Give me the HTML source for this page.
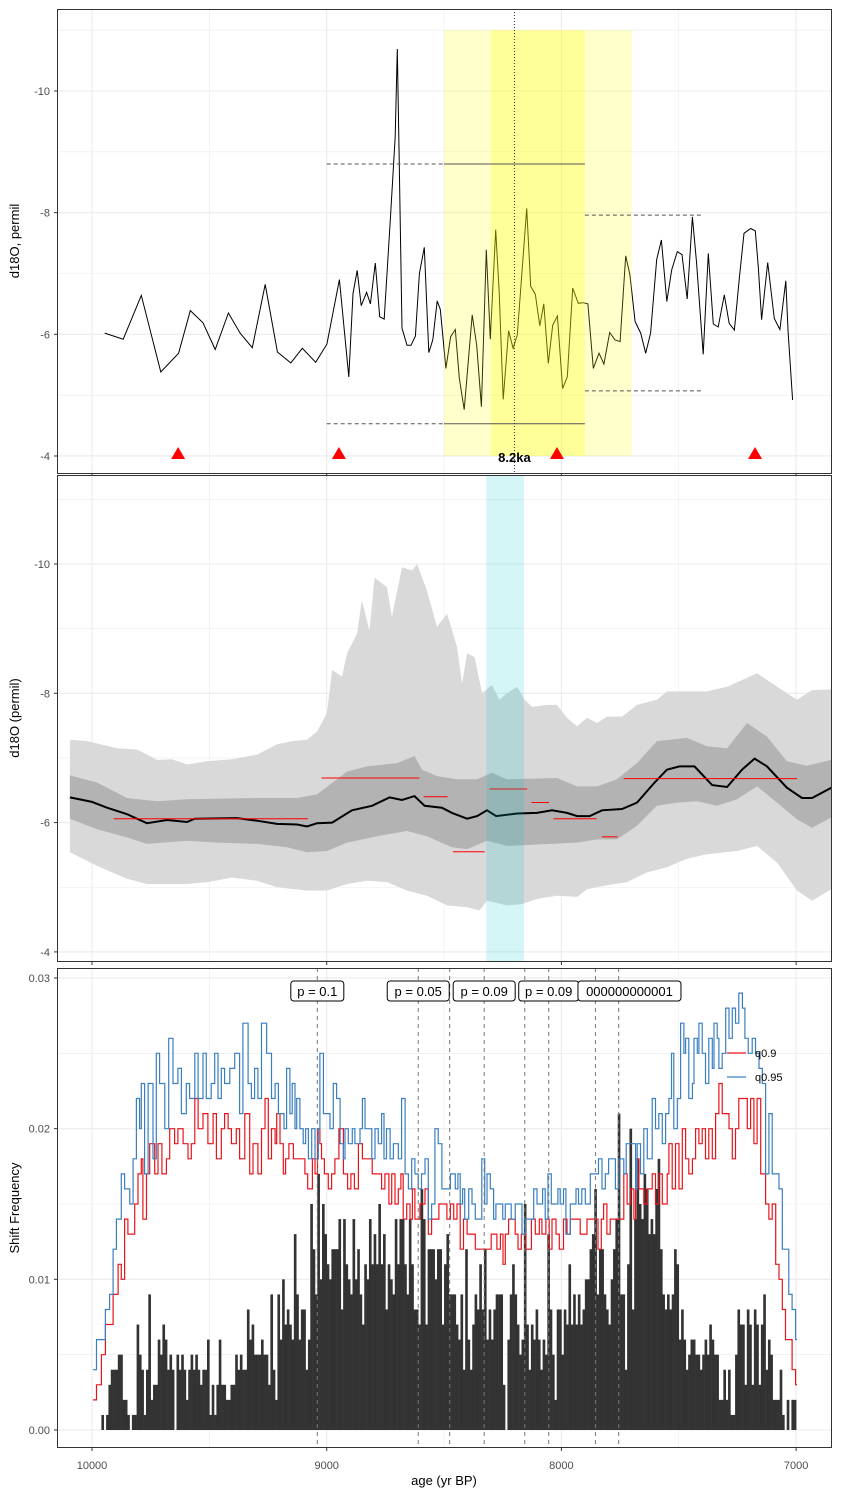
<!DOCTYPE html>
<html><head><meta charset="utf-8"><style>
html,body{margin:0;padding:0;background:#fff;}
svg{display:block;font-family:"Liberation Sans",sans-serif;}
</style></head><body>
<svg id="chart" width="841" height="1496" viewBox="0 0 841 1496" xmlns="http://www.w3.org/2000/svg">
<rect x="0" y="0" width="841" height="1496" fill="#fff"/>
<text x="19" y="241" transform="rotate(-90 19 241)" text-anchor="middle" font-size="13" fill="#000">d18O, permil</text>
<text x="19" y="718" transform="rotate(-90 19 718)" text-anchor="middle" font-size="13" fill="#000">d18O (permil)</text>
<text x="19" y="1208" transform="rotate(-90 19 1208)" text-anchor="middle" font-size="13" fill="#000">Shift Frequency</text>
<text x="444" y="1485" text-anchor="middle" font-size="13" fill="#000">age (yr BP)</text>
</svg>
<script>
// ---------- Panel 1 data ----------
const ages1=[9946,9867,9790,9707,9631,9581,9527,9475,9419,9369,9317,9262,9210,9153,9104,9047,8999,8946,8906,8888,8870,8853,8830,8814,8793,8774,8755,8729,8708,8699,8691,8679,8658,8641,8622,8605,8584,8565,8548,8529,8516,8492,8472,8452,8435,8414,8380,8361,8341,8320,8303,8280,8265,8248,8225,8206,8188,8148,8131,8111,8092,8075,8056,8037,8017,7995,7975,7952,7928,7907,7887,7864,7840,7819,7794,7772,7750,7726,7708,7686,7662,7641,7620,7594,7574,7551,7530,7506,7486,7464,7442,7424,7396,7374,7353,7332,7306,7285,7263,7242,7222,7193,7174,7161,7147,7121,7093,7069,7044,7034,7015];
const vals1=[-6.02,-5.92,-6.64,-5.38,-5.69,-6.39,-6.19,-5.75,-6.35,-6.02,-5.78,-6.82,-5.71,-5.53,-5.77,-5.54,-5.84,-6.90,-5.30,-6.67,-7.05,-6.47,-6.69,-6.50,-7.17,-6.29,-6.25,-7.88,-9.25,-10.69,-8.87,-6.10,-5.82,-5.82,-5.97,-7.00,-7.43,-5.70,-5.91,-6.55,-6.41,-5.44,-5.96,-6.08,-5.28,-4.76,-6.32,-5.82,-4.81,-7.39,-5.92,-7.72,-6.69,-4.93,-6.06,-5.77,-5.99,-8.07,-6.79,-6.66,-6.14,-6.50,-5.52,-6.15,-6.30,-5.11,-5.30,-6.76,-6.51,-6.52,-6.50,-5.44,-5.69,-5.51,-6.03,-5.91,-5.88,-7.29,-6.98,-6.21,-6.02,-5.69,-6.02,-7.23,-7.55,-6.54,-7.06,-7.36,-7.31,-6.58,-7.93,-7.17,-5.67,-7.33,-6.17,-6.12,-6.65,-6.18,-6.07,-6.92,-7.66,-7.74,-7.70,-7.11,-6.24,-7.18,-6.26,-6.08,-6.88,-6.04,-4.92];
const triAges=[9633,8948,8019,7175];
const refLevels=[-8.8,-4.53];
const rightLevels=[-7.96,-5.07];
// ---------- Panel 2 data ----------
const meanAges=[10094,10000,9936,9851,9766,9680,9595,9563,9382,9297,9212,9126,9084,9041,8977,8892,8807,8732,8679,8626,8583,8509,8466,8402,8359,8317,8278,8189,8104,8040,7976,7933,7880,7827,7742,7678,7603,7550,7497,7433,7358,7294,7230,7177,7124,7039,6975,6932,6850];
const meanVals=[-6.39,-6.32,-6.23,-6.13,-5.99,-6.04,-6.01,-6.06,-6.07,-6.03,-5.98,-5.97,-5.94,-5.99,-6.00,-6.19,-6.26,-6.39,-6.35,-6.41,-6.26,-6.23,-6.15,-6.06,-6.10,-6.19,-6.10,-6.14,-6.15,-6.19,-6.15,-6.10,-6.10,-6.19,-6.21,-6.31,-6.62,-6.82,-6.87,-6.87,-6.58,-6.55,-6.82,-6.99,-6.87,-6.54,-6.38,-6.38,-6.54];
const lightTopAges=[10094,10021,9893,9808,9723,9659,9595,9510,9403,9297,9212,9148,9084,9041,8999,8977,8935,8913,8871,8850,8818,8796,8743,8722,8679,8636,8615,8573,8530,8487,8445,8423,8402,8370,8338,8296,8264,8232,8189,8157,8125,8061,8019,7976,7933,7891,7848,7806,7742,7678,7593,7550,7380,7294,7166,7081,6996,6932,6850];
const lightTopVals=[-7.28,-7.26,-7.15,-7.13,-6.97,-6.98,-6.90,-6.95,-6.98,-7.05,-7.21,-7.26,-7.28,-7.41,-7.69,-8.36,-8.26,-8.62,-8.92,-9.44,-8.97,-9.79,-9.64,-9.18,-9.95,-9.90,-10.0,-9.59,-9.03,-9.23,-8.72,-8.15,-8.62,-8.56,-8.00,-8.13,-7.90,-8.00,-8.10,-7.90,-7.79,-7.82,-7.82,-7.62,-7.49,-7.62,-7.54,-7.64,-7.64,-7.82,-7.90,-8.03,-8.03,-8.10,-8.31,-8.10,-7.90,-8.05,-8.06];
const lightBotAges=[10094,9979,9851,9766,9595,9510,9403,9297,9212,9084,8999,8913,8828,8743,8658,8573,8487,8402,8349,8317,8232,8168,8104,8019,7933,7891,7806,7720,7635,7550,7465,7380,7252,7166,7081,6996,6932,6850];
const lightBotVals=[-5.54,-5.33,-5.13,-5.05,-5.05,-5.08,-5.15,-5.10,-5.00,-4.95,-4.95,-5.05,-5.10,-5.08,-4.95,-4.87,-4.72,-4.69,-4.64,-4.79,-4.72,-4.74,-4.82,-4.87,-4.85,-4.97,-5.03,-5.08,-5.23,-5.31,-5.44,-5.51,-5.56,-5.64,-5.38,-4.95,-4.79,-4.97];
const darkTopAges=[10094,9979,9851,9723,9595,9297,9126,9041,8956,8913,8828,8700,8626,8594,8530,8445,8359,8296,8232,8019,7933,7848,7763,7678,7593,7465,7380,7294,7209,7124,7039,6954,6850];
const darkTopVals=[-6.73,-6.62,-6.38,-6.33,-6.36,-6.38,-6.38,-6.44,-6.67,-6.79,-6.87,-6.92,-7.03,-6.82,-6.72,-6.67,-6.67,-6.77,-6.67,-6.69,-6.56,-6.56,-6.67,-6.92,-7.26,-7.31,-7.18,-7.15,-7.54,-7.33,-6.95,-6.88,-6.97];
const darkBotAges=[10094,9979,9851,9766,9595,9467,9297,9169,9084,8999,8913,8785,8658,8573,8466,8402,8317,8232,7933,7848,7763,7678,7593,7507,7422,7337,7252,7166,7081,6996,6932,6850];
const darkBotVals=[-6.06,-5.90,-5.77,-5.67,-5.72,-5.69,-5.67,-5.62,-5.54,-5.56,-5.69,-5.79,-5.87,-5.79,-5.62,-5.59,-5.72,-5.64,-5.69,-5.74,-5.74,-5.95,-6.26,-6.31,-6.33,-6.26,-6.36,-6.56,-6.31,-6.05,-5.92,-6.08];
const segStart=[9908,9022,8587,8462,8306,8127,8034,7827,7735];
const segEnd=[9080,8605,8485,8327,8146,8053,7850,7761,6996];
const segVal=[-6.06,-6.69,-6.40,-5.55,-6.52,-6.31,-6.06,-5.78,-6.68];
// ---------- Panel 3 data (frequency in units of 0.001) ----------
const histStart=9960, histWidth=10;
const histVals=[1,0,1,3,4,4,4,5,5,2,2,1,0,1,1,7,5,4,1,4,9,2,3,3,6,5,7,6,4,5,4,0,5,4,5,4,2,4,5,4,5,4,3,4,4,6,1,3,1,3,6,3,3,2,2,3,3,5,4,5,4,4,8,6,7,5,5,5,6,5,
5,3,9,4,2,9,6,10,7,8,7,6,13,9,6,8,8,4,6,15,12,9,17,10,15,13,11,10,12,12,12,14,8,14,11,10,9,14,10,12,9,7,11,10,14,11,13,11,15,11,13,8,11,10,9,14,11,14,14,11,9,14,11,8,8,7,16,14,7,12,12,12,10,12,12,7,
11,13,9,9,9,7,6,9,4,12,6,4,7,9,8,11,8,12,6,8,6,8,9,9,9,3,0,6,9,11,9,7,5,6,15,7,4,7,6,8,6,4,6,5,13,8,5,2,8,8,5,8,7,11,7,9,7,9,7,8,10,10,12,13,16,9,12,12,9,8,7,10,12,14,21,
9,9,4,11,20,8,14,18,15,14,17,16,13,14,13,16,18,12,9,8,9,8,9,12,11,6,8,6,4,5,6,6,5,5,4,5,6,5,7,6,5,5,2,2,4,2,4,1,1,5,8,7,7,3,8,7,3,8,7,3,7,9,4,6,5,2,2,2,4,1,0,2,0,2,2];
const q95Ages=[9996,9981,9943,9925,9910,9896,9875,9861,9839,9825,9811,9797,9790,9776,9761,9740,9726,9712,9690,9673,9655,9634,9619,9598,9584,9562,9548,9527,9513,9492,9477,9463,9449,9435,9413,9392,9371,9357,9335,9321,9307,9293,9278,
9256,9235,9220,9206,9192,9182,9171,9157,9147,9135,9128,9114,9100,9090,9078,9064,9050,9036,9029,9014,9000,8986,8972,8958,8943,8929,8922,8908,8891,8880,8858,8848,8837,8808,8794,8780,8766,8756,8745,8730,8716,8695,8681,8666,8652,8638,8624,8610,8596,8581,8567,8553,8539,8525,
8509,8473,8452,8441,8431,8421,8412,8395,8381,8367,8353,8339,8327,8317,8303,8289,8279,8265,8250,8239,8225,8214,8197,8179,8168,8154,8133,8118,8104,8090,8080,8069,8057,8043,8026,8015,8005,7991,7981,7962,7948,7938,7927,7913,7898,7877,7856,7842,7827,7813,7799,7782,7770,
7755,7734,7724,7705,7684,7677,7663,7649,7634,7620,7613,7599,7585,7570,7556,7542,7531,7521,7506,7492,7478,7471,7457,7442,7435,7421,7414,7400,7386,7372,7357,7350,7336,7329,7315,7300,7286,7272,7258,7244,7229,7218,7204,7187,7173,7158,7144,7130,7116,7102,7087,7073,7059,7045,7031,7017,7002];
const q95Vals=[4,6,8,9,12,14,17,16,15,18,22,20,23,17,23,18,25,23,20,26,23,24,21,23,22,25,22,25,22,23,25,22,24,23,24,25,21,27,23,22,24,22,27,
25,22,23,21,21,20,24,21,23,20,22,20,19,20,18,20,18,20,25,21,21,20,23,22,19,18,20,19,20,19,20,22,20,18,20,19,21,18,20,18,19,18,22,17,16,18,17,16,17,18,14,15,20,19,
16,17,16,17,15,16,14,16,15,14,14,18,15,17,16,14,15,15,14,15,15,14,15,15,13,14,14,16,15,15,16,14,17,15,15,16,15,16,13,15,15,16,15,16,15,17,17,18,16,17,18,18,16,
18,17,19,19,16,19,17,20,18,18,22,20,21,19,21,22,25,20,22,27,25,26,22,23,26,25,27,25,23,26,24,27,26,24,25,28,26,28,27,29,28,26,25,26,25,24,23,17,21,17,17,16,12,12,9,8,6];
const q90Ages=[9996,9981,9960,9943,9910,9889,9875,9861,9847,9832,9818,9804,9790,9783,9768,9754,9733,9719,9702,9683,9669,9648,9634,9612,9591,9577,9562,9548,9527,9506,9484,9470,9449,9435,9420,9406,9385,9371,9349,9328,9314,9293,9278,
9263,9249,9235,9220,9213,9199,9185,9175,9161,9142,9121,9107,9093,9081,9071,9061,9050,9039,9029,9022,9010,8993,8979,8965,8948,8929,8911,8897,8882,8865,8848,8830,8806,8780,8766,8752,8735,8723,8709,8695,8684,8674,8659,8645,8635,8624,8603,8581,8567,8553,8536,8522,
8509,8488,8473,8459,8445,8431,8417,8402,8384,8367,8346,8331,8317,8299,8285,8275,8260,8249,8239,8225,8211,8197,8185,8171,8151,8128,8111,8094,8083,8066,8052,8040,8023,8009,7991,7976,7962,7948,7934,7920,7905,7891,7877,7856,7844,7830,7820,7806,7792,7770,
7755,7734,7720,7705,7691,7684,7670,7649,7634,7613,7599,7585,7570,7556,7549,7542,7528,7514,7499,7485,7471,7457,7442,7428,7414,7400,7386,7372,7357,7343,7329,7315,7300,7286,7272,7258,7244,7222,7208,7194,7180,7166,7151,7130,7116,7102,7087,7073,7059,7045,7031,7017,7002];
const q90Vals=[2,3,5,7,9,11,10,14,13,13,15,17,18,14,17,19,17,19,17,18,20,19,20,19,18,19,22,20,21,19,21,18,20,21,20,19,20,18,21,17,19,17,20,
22,18,20,19,21,19,17,18,19,18,18,18,17,16,16,18,17,20,19,18,17,16,17,18,20,17,16,17,16,19,18,18,17,17,16,17,15,17,15,16,17,14,15,14,16,14,15,16,13,14,14,15,
15,14,15,14,15,12,14,13,13,12,12,12,12,13,13,12,13,11,13,14,14,13,12,13,12,14,13,14,13,14,12,14,13,12,14,13,14,14,14,13,13,14,14,14,12,14,15,13,14,14,
14,17,15,16,14,18,16,15,16,17,15,17,15,15,17,19,16,19,16,20,18,17,18,20,19,20,18,20,18,21,23,21,21,20,18,20,22,22,20,22,19,22,17,15,14,15,11,10,8,6,6,4,3];
const dashAges=[9040,8610,8476,8329,8156,8054,7855,7756];
const pLabels=["p = 0.1","p = 0.05","p = 0.09","p = 0.09","000000000001"];
const pLabelAges=[9040,8610,8329,8054,7710];

// ---------- scales ----------
const NS='http://www.w3.org/2000/svg';
const svg=document.getElementById('chart');
function mk(tag,attrs,parent){const e=document.createElementNS(NS,tag);for(const k in attrs)e.setAttribute(k,attrs[k]);(parent||svg).appendChild(e);return e;}
const X=a=>92+(10000-a)*0.2347;
const Y1=v=>91+(v+10)*60.83;
const Y2=v=>564+(v+10)*64.65;
const Y3=f=>1430-f*15.067; // f in units of 0.001
const L=57,R=832;
const P1={t:9,b:474},P2={t:475,b:962},P3={t:968,b:1448};

const defs=mk('defs',{});
[['c1',P1],['c2',P2],['c3',P3]].forEach(([id,p])=>{const c=mk('clipPath',{id:id},defs);mk('rect',{x:L,y:p.t,width:R-L,height:p.b-p.t},c);});

function grid(p,yMajor,yMinor,Yf,name){
  const g=mk('g',{'clip-path':'url(#c'+name+')'});
  
  
  [9500,8500,7500].forEach(a=>mk('line',{x1:X(a),x2:X(a),y1:p.t,y2:p.b,stroke:'#ebebeb','stroke-width':0.6},g));
  [10000,9000,8000,7000].forEach(a=>mk('line',{x1:X(a),x2:X(a),y1:p.t,y2:p.b,stroke:'#ebebeb','stroke-width':1.1},g));
  yMinor.forEach(v=>mk('line',{x1:L,x2:R,y1:Yf(v),y2:Yf(v),stroke:'#ebebeb','stroke-width':0.6},g));
  yMajor.forEach(v=>mk('line',{x1:L,x2:R,y1:Yf(v),y2:Yf(v),stroke:'#ebebeb','stroke-width':1.1},g));
  return g;
}
function yTicks(vals,labels,Yf,name){
  vals.forEach((v,i)=>{
    const t=mk('text',{x:50,y:Yf(v)+4,'text-anchor':'end','font-size':11,fill:'#4d4d4d'});
    t.textContent=labels[i];
    
    
    mk('line',{x1:54,x2:57,y1:Yf(v),y2:Yf(v),stroke:'#333','stroke-width':1});
  });
}
function frame(p,name){
  const r=mk('rect',{x:L+0.5,y:p.t+0.5,width:R-L-1,height:p.b-p.t-1,fill:'none',stroke:'#333','stroke-width':1});
  
  
  [10000,9000,8000,7000].forEach(a=>mk('line',{x1:X(a),x2:X(a),y1:p.b,y2:p.b+3,stroke:'#333','stroke-width':1}));
}

// ---------- Panel 1 ----------
grid(P1,[-10,-8,-6,-4],[-11,-9,-7,-5],Y1,'1');
const g1=mk('g',{'clip-path':'url(#c1)'});


let d='';ages1.forEach((a,i)=>{d+=(i?'L':'M')+X(a).toFixed(1)+' '+Y1(vals1[i]).toFixed(1);});
const l1=mk('path',{d:d,fill:'none',stroke:'#000','stroke-width':1},g1);


const outer=mk('rect',{x:X(8500),y:Y1(-11),width:X(7700)-X(8500),height:Y1(-4)-Y1(-11),fill:'rgba(255,255,0,0.2)'},g1);


const inner=mk('rect',{x:X(8300),y:Y1(-11),width:X(7900)-X(8300),height:Y1(-4)-Y1(-11),fill:'rgba(255,255,0,0.25)'},g1);


refLevels.forEach(v=>{
  const s=mk('line',{x1:X(8500),x2:X(7900),y1:Y1(v),y2:Y1(v),stroke:'#555','stroke-width':1},g1);
  
  
  const dd=mk('line',{x1:X(9000),x2:X(8500),y1:Y1(v),y2:Y1(v),stroke:'#555','stroke-width':1,'stroke-dasharray':'4,3'},g1);
  
  
});
rightLevels.forEach(v=>{
  const dd=mk('line',{x1:X(7900),x2:X(7400),y1:Y1(v),y2:Y1(v),stroke:'#555','stroke-width':1,'stroke-dasharray':'4,3'},g1);
  
  
});
const ev=mk('line',{x1:X(8200),x2:X(8200),y1:P1.t,y2:P1.b,stroke:'#333','stroke-width':1,'stroke-dasharray':'1,2'},g1);


triAges.forEach(a=>{
  const x=X(a),y=Y1(-4);
  const t=mk('polygon',{points:`${x-7},${y+3} ${x+7},${y+3} ${x},${y-9}`,fill:'#ff0000'},g1);
  
  
});
const ka=mk('text',{x:X(8200),y:462,'text-anchor':'middle','font-size':13,'font-weight':'bold',fill:'#000'});
ka.textContent='8.2ka';


yTicks([-10,-8,-6,-4],['-10','-8','-6','-4'],Y1,'panel1-y');
frame(P1,'panel1');

// ---------- Panel 2 ----------
grid(P2,[-10,-8,-6,-4],[-11,-9,-7,-5],Y2,'2');
const g2=mk('g',{'clip-path':'url(#c2)'});


function band(tA,tV,bA,bV){let s='';tA.forEach((a,i)=>{s+=(i?'L':'M')+X(a).toFixed(1)+' '+Y2(tV[i]).toFixed(1);});for(let i=bA.length-1;i>=0;i--){s+='L'+X(bA[i]).toFixed(1)+' '+Y2(bV[i]).toFixed(1);}return s+'Z';}
const lb=mk('path',{d:band(lightTopAges,lightTopVals,lightBotAges,lightBotVals),fill:'#d9d9d9'},g2);


const db=mk('path',{d:band(darkTopAges,darkTopVals,darkBotAges,darkBotVals),fill:'#b3b3b3'},g2);


d='';meanAges.forEach((a,i)=>{d+=(i?'L':'M')+X(a).toFixed(1)+' '+Y2(meanVals[i]).toFixed(1);});
const ml=mk('path',{d:d,fill:'none',stroke:'#000','stroke-width':2},g2);


segStart.forEach((a,i)=>{
  const s=mk('line',{x1:X(a),x2:X(segEnd[i]),y1:Y2(segVal[i]),y2:Y2(segVal[i]),stroke:'#ff0000','stroke-width':1},g2);
  
  
});
const cy=mk('rect',{x:X(8320),y:P2.t,width:X(8160)-X(8320),height:P2.b-P2.t,fill:'rgba(0,200,210,0.17)'},g2);


yTicks([-10,-8,-6,-4],['-10','-8','-6','-4'],Y2,'panel2-y');
frame(P2,'panel2');

// ---------- Panel 3 ----------
grid(P3,[0,10,20,30],[5,15,25],Y3,'3');
const g3=mk('g',{'clip-path':'url(#c3)'});


histVals.forEach((v,i)=>{
  if(!v)return;
  const a0=histStart-i*histWidth,a1=a0-histWidth;
  const b=mk('rect',{x:X(a0),y:Y3(v),width:X(a1)-X(a0)+0.3,height:Y3(0)-Y3(v),fill:'#333333'},g3);
  
  
});
function stepPath(A,V){let s='M'+X(A[0]).toFixed(1)+' '+Y3(V[0]).toFixed(1);for(let i=1;i<A.length;i++){s+='H'+X(A[i]).toFixed(1)+'V'+Y3(V[i]).toFixed(1);}s+='H'+X(A[A.length-1]-6).toFixed(1);return s;}
const q90=mk('path',{d:stepPath(q90Ages,q90Vals),fill:'none',stroke:'#e8141c','stroke-width':1.2},g3);


const q95=mk('path',{d:stepPath(q95Ages,q95Vals),fill:'none',stroke:'#3a7fc0','stroke-width':1.2},g3);


dashAges.forEach(a=>{
  const l=mk('line',{x1:X(a),x2:X(a),y1:P3.t,y2:P3.b,stroke:'#777','stroke-width':1,'stroke-dasharray':'4,4'},g3);
  
  
});
const boxW=[53,62,62,60,103];
pLabels.forEach((t,i)=>{
  const cx=X(pLabelAges[i]);
  const gg=mk('g',{});
  
  
  mk('rect',{x:cx-boxW[i]/2,y:981,width:boxW[i],height:20,rx:3,fill:'#fff',stroke:'#000','stroke-width':1},gg);
  const tx=mk('text',{x:cx,y:996,'text-anchor':'middle','font-size':13,fill:'#000'},gg);
  tx.textContent=t;
});
const lg=mk('g',{});


mk('line',{x1:727,x2:746,y1:1053,y2:1053,stroke:'#e8141c','stroke-width':1.2},lg);
const lt1=mk('text',{x:755,y:1057,'font-size':11,fill:'#000'},lg);lt1.textContent='q0.9';


mk('line',{x1:727,x2:746,y1:1077,y2:1077,stroke:'#3a7fc0','stroke-width':1.2},lg);
const lt2=mk('text',{x:755,y:1081,'font-size':11,fill:'#000'},lg);lt2.textContent='q0.95';


yTicks([0,10,20,30],['0.00','0.01','0.02','0.03'],Y3,'panel3-y');
frame(P3,'panel3');
[10000,9000,8000,7000].forEach(a=>{
  const t=mk('text',{x:X(a),y:1469,'text-anchor':'middle','font-size':11,fill:'#4d4d4d'});
  t.textContent=String(a);
  
  
});
</script>
</body></html>
